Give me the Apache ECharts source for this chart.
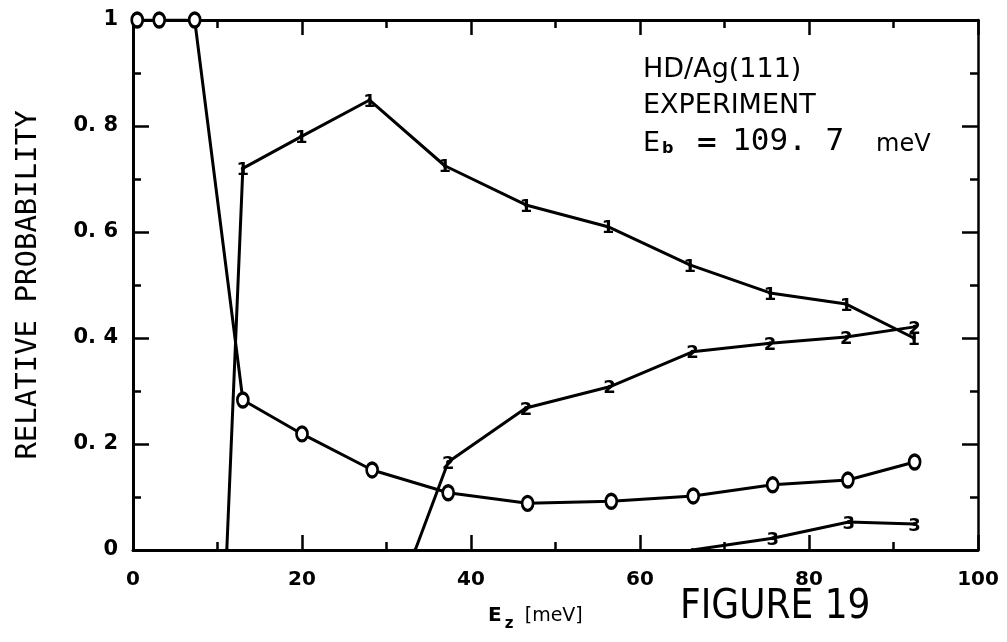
<!DOCTYPE html>
<html>
<head>
<meta charset="utf-8">
<script src="https://cdn.jsdelivr.net/npm/echarts@6/dist/echarts.min.js"></script>
<style>
  html, body { margin: 0; padding: 0; background: #fff; }
  #chart { width: 1007px; height: 642px; }
</style>
</head>
<body>
<div id="chart"></div>
<script>
// curve "0"
var x0 = [0.5, 3.1, 7.3, 13.0, 20.0, 28.3, 37.3, 46.7, 56.6, 66.3, 75.7, 84.6, 92.5];
var y0 = [1, 1, 1, 0.283, 0.219, 0.151, 0.108, 0.088, 0.092, 0.102, 0.123, 0.132, 0.166];
// curve "1"
var x1 = [11.1, 13.0, 19.9, 28.0, 36.9, 46.5, 56.2, 65.9, 75.4, 84.4, 92.4];
var y1 = [0, 0.72, 0.78, 0.849, 0.725, 0.651, 0.610, 0.538, 0.485, 0.464, 0.40];
// curve "2"
var x2 = [33.4, 37.3, 46.5, 56.4, 66.2, 75.4, 84.4, 92.5];
var y2 = [0, 0.166, 0.268, 0.308, 0.374, 0.39, 0.402, 0.421];
// curve "3"
var x3 = [66.2, 75.7, 84.7, 92.5];
var y3 = [0, 0.022, 0.053, 0.049];

var xTicks = [0, 20, 40, 60, 80, 100];
var yTicks = [0, 0.2, 0.4, 0.6, 0.8, 1];

var chart = echarts.init(document.getElementById('chart'));

function pairs(xs, ys) {
    var out = [];
    for (var i = 0; i < xs.length; i++) {
        out.push([xs[i], ys[i]]);
    }
    return out;
}

var tickFont = 'DejaVu Sans';

function yLabel(v) {
    if (v === 0) return '0';
    if (v === 1) return '1';
    return '0. ' + Math.round(v * 10);
}

function baseX(pos, show) {
    return {
        type: 'value',
        position: pos,
        min: xTicks[0],
        max: xTicks[xTicks.length - 1],
        interval: 20,
        axisLine: { show: true, onZero: false, lineStyle: { color: '#000', width: 3 } },
        axisTick: { show: true, inside: true, length: 15, lineStyle: { color: '#000', width: 2.5 } },
        minorTick: { show: true, splitNumber: 2, length: 8, lineStyle: { color: '#000', width: 2.5 } },
        axisLabel: {
            show: show,
            margin: 20,
            color: '#000',
            fontFamily: tickFont,
            fontWeight: 'bold',
            fontSize: 20
        },
        splitLine: { show: false }
    };
}

function baseY(pos, show) {
    return {
        type: 'value',
        position: pos,
        min: yTicks[0],
        max: yTicks[yTicks.length - 1],
        interval: 0.2,
        axisLine: { show: true, onZero: false, lineStyle: { color: '#000', width: pos === 'left' ? 3 : 2.5 } },
        axisTick: { show: true, inside: true, length: 16, lineStyle: { color: '#000', width: 2.5 } },
        minorTick: { show: true, splitNumber: 2, length: 8, lineStyle: { color: '#000', width: 2.5 } },
        axisLabel: {
            show: show,
            margin: 15,
            color: '#000',
            fontFamily: tickFont,
            fontWeight: 'bold',
            fontSize: 21,
            formatter: yLabel
        },
        splitLine: { show: false }
    };
}

var leftY = baseY('left', true);
leftY.name = 'RELATIVE PROBABILITY';
leftY.nameLocation = 'middle';
leftY.nameGap = 90;
leftY.nameTextStyle = { color: '#000', fontFamily: 'DejaVu Sans Mono', fontSize: 29 };

function digitSeries(name, data) {
    return {
        name: name,
        type: 'line',
        data: data,
        symbol: 'circle',
        symbolSize: 4,
        itemStyle: { color: '#000' },
        lineStyle: { color: '#000', width: 3 },
        label: {
            show: true,
            position: 'inside',
            align: 'center',
            verticalAlign: 'middle',
            offset: [0, 2],
            color: '#000',
            fontFamily: 'DejaVu Sans',
            fontWeight: 'bold',
            fontSize: 18,
            formatter: function (p) { return p.value[1] === 0 ? '' : name; }
        },
        z: 3
    };
}

var option = {
    animation: false,
    backgroundColor: '#fff',
    grid: { left: 133, right: 29, top: 20, bottom: 92, containLabel: false },
    xAxis: [baseX('bottom', true), baseX('top', false)],
    yAxis: [leftY, baseY('right', false)],
    series: [
        {
            name: '0',
            type: 'line',
            data: pairs(x0, y0),
            symbol: 'circle',
            symbolSize: [11, 14],
            itemStyle: { color: '#fff', borderColor: '#000', borderWidth: 3 },
            lineStyle: { color: '#000', width: 3 },
            z: 4
        },
        digitSeries('1', pairs(x1, y1)),
        digitSeries('2', pairs(x2, y2)),
        digitSeries('3', pairs(x3, y3))
    ],
    graphic: [
        {
            type: 'text', left: 643, top: 56,
            style: { text: 'HD/Ag(111)', fill: '#000', font: '27px "DejaVu Sans"' }
        },
        {
            type: 'text', left: 643, top: 92,
            style: { text: 'EXPERIMENT', fill: '#000', font: '27px "DejaVu Sans"' }
        },
        {
            type: 'text', left: 643, top: 126,
            style: {
                text: '{e|E}{s|b}{q|=}{d|109. 7}{m|meV}',
                fill: '#000',
                rich: {
                    e: { fontFamily: 'DejaVu Sans', fontSize: 27, color: '#000', verticalAlign: 'bottom' },
                    s: { fontFamily: 'DejaVu Sans', fontSize: 16, color: '#000', fontWeight: 'bold', verticalAlign: 'bottom', padding: [0, 0, 0, 2] },
                    q: { fontFamily: 'DejaVu Sans', fontSize: 27, fontWeight: 'bold', color: '#000', verticalAlign: 'bottom', padding: [0, 0, 0, 22] },
                    d: { fontFamily: 'DejaVu Sans Mono', fontSize: 31, color: '#000', verticalAlign: 'bottom', padding: [0, 0, 0, 14] },
                    m: { fontFamily: 'DejaVu Sans', fontSize: 24, color: '#000', verticalAlign: 'bottom', padding: [0, 0, 0, 32] }
                }
            }
        },
        {
            type: 'text', left: 488, top: 606,
            style: {
                text: '{e|E}{s|z} {m|[meV]}',
                rich: {
                    e: { fontFamily: 'DejaVu Sans', fontWeight: 'bold', fontSize: 20, color: '#000', verticalAlign: 'bottom' },
                    s: { fontFamily: 'DejaVu Sans', fontWeight: 'bold', fontSize: 15, color: '#000', verticalAlign: 'bottom', padding: [0, 0, -6, 3] },
                    m: { fontFamily: 'DejaVu Sans', fontSize: 19, color: '#000', verticalAlign: 'bottom', padding: [0, 0, 0, 8] }
                }
            }
        },
        {
            type: 'text', left: 680, top: 588,
            style: {
                text: 'FIGURE 19',
                fill: '#000',
                font: '40px "Liberation Sans Narrow", "DejaVu Sans Condensed", sans-serif'
            }
        }
    ]
};

chart.setOption(option);
</script>
</body>
</html>
